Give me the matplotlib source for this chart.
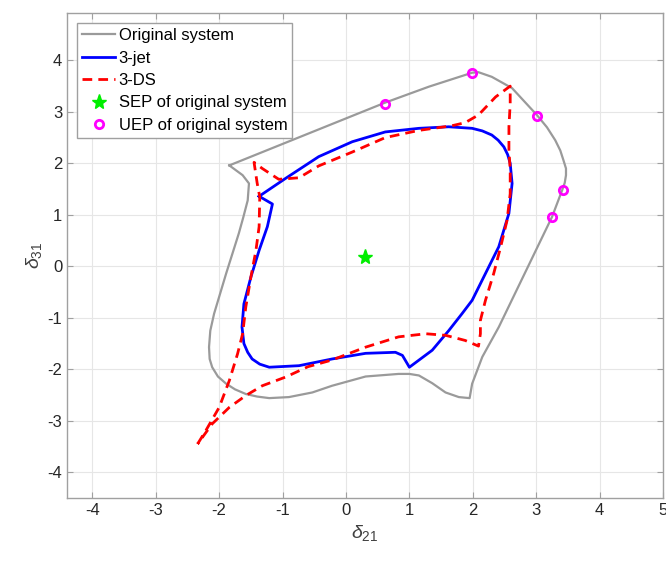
import numpy as np
import matplotlib
matplotlib.use("Agg")
import matplotlib.pyplot as plt

plt.rcParams['font.family'] = ['Liberation Sans', 'DejaVu Sans']
plt.rcParams['mathtext.fontset'] = 'custom'
plt.rcParams['mathtext.rm'] = 'Liberation Sans'
plt.rcParams['mathtext.it'] = 'Liberation Sans:italic'
plt.rcParams['axes.unicode_minus'] = False

# ---------------- data ----------------
# stability boundary of the original system
orig_x = [-1.84, 0.62, 1.31, 1.99, 2.09, 2.30, 2.62, 2.80, 3.01, 3.17, 3.30, 3.38, 3.43, 3.47,
          3.47, 3.45, 3.41, 3.25, 2.41, 2.15, 1.99, 1.95, 1.78, 1.57, 1.36, 1.15, 1.00, 0.83,
          0.31, -0.22, -0.53, -0.90, -1.21, -1.40, -1.58, -1.75, -1.89, -2.02, -2.11, -2.15,
          -2.16, -2.14, -2.08, -1.89, -1.69, -1.62, -1.55, -1.53, -1.63, -1.84]
orig_y = [1.96, 3.18, 3.49, 3.76, 3.77, 3.68, 3.46, 3.22, 2.94, 2.70, 2.45, 2.25, 2.06, 1.90,
          1.77, 1.62, 1.48, 0.96, -1.18, -1.76, -2.28, -2.56, -2.54, -2.45, -2.27, -2.12, -2.09, -2.09,
          -2.14, -2.32, -2.45, -2.54, -2.56, -2.53, -2.48, -2.39, -2.28, -2.14, -1.96, -1.80,
          -1.57, -1.25, -0.92, -0.14, 0.64, 0.95, 1.28, 1.61, 1.77, 1.96]

# 3-jet approximation
jet_x = [-1.37, -0.95, -0.43, 0.10, 0.62, 1.15, 1.62, 1.99, 2.15, 2.30, 2.40, 2.49, 2.55, 2.59,
         2.62, 2.57, 2.41, 2.20, 1.99, 1.83, 1.62, 1.36, 1.00, 0.89, 0.78, 0.31, -0.22, -0.74,
         -1.21, -1.36, -1.48, -1.55, -1.61, -1.64, -1.61, -1.50, -1.37, -1.24, -1.16, -1.37]
jet_y = [1.36, 1.71, 2.13, 2.42, 2.61, 2.68, 2.71, 2.68, 2.63, 2.55, 2.45, 2.32, 2.17, 2.00,
         1.61, 1.03, 0.38, -0.14, -0.66, -0.92, -1.25, -1.63, -1.96, -1.73, -1.67, -1.69, -1.80, -1.93,
         -1.96, -1.90, -1.80, -1.67, -1.50, -1.18, -0.73, -0.21, 0.31, 0.77, 1.21, 1.36]

# 3-DS approximation
ds_x = [-2.34, -2.21, -2.00, -1.84, -1.71, -1.63, -1.58, -1.50, -1.42, -1.37, -1.36, -1.40, -1.45,
        -1.32, -1.06, -0.74, -0.43, 0.10, 0.62, 1.15, 1.67, 1.88, 2.09, 2.36, 2.59,
        2.59, 2.57, 2.57, 2.59, 2.59, 2.54, 2.44, 2.33, 2.20, 2.12, 2.12, 2.09,
        1.88, 1.57, 1.26, 0.83, 0.31, -0.22, -0.60, -0.95, -1.32, -1.58, -1.84, -2.11, -2.34]
ds_y = [-3.45, -3.19, -2.74, -2.22, -1.70, -1.31, -0.79, -0.21, 0.31, 0.77, 1.35, 1.61, 2.02,
        1.90, 1.69, 1.72, 1.95, 2.22, 2.50, 2.64, 2.73, 2.79, 2.94, 3.29, 3.50,
        3.16, 2.71, 2.26, 1.87, 1.41, 0.89, 0.38, -0.14, -0.66, -1.05, -1.31, -1.55,
        -1.44, -1.34, -1.31, -1.37, -1.57, -1.82, -1.95, -2.15, -2.32, -2.51, -2.74, -3.06, -3.45]

sep_x, sep_y = [0.30], [0.18]
uep_x = [0.62, 1.99, 3.01, 3.42, 3.25]
uep_y = [3.16, 3.75, 2.92, 1.48, 0.96]

# ---------------- plot ----------------
fig = plt.figure(figsize=(6.66, 5.65), dpi=100)
ax = fig.add_axes([67 / 666, 67 / 565, 596 / 666, 485 / 565])

ax.plot(orig_x, orig_y, color='#9a9a9a', lw=1.6, label='Original system')
ax.plot(jet_x, jet_y, color='#0000ff', lw=2, label='3-jet')
ax.plot(ds_x, ds_y, color='#ff0000', lw=2, ls='--', dashes=(3.5, 2.2), label='3-DS')
ax.plot(sep_x, sep_y, ls='none', marker='*', ms=11, color='#00ee00', label='SEP of original system')
ax.plot(uep_x, uep_y, ls='none', marker='o', ms=6, mfc='none', mec='#ff00ff', mew=2,
        label='UEP of original system')

ax.set_xlim(-4.4, 5)
ax.set_ylim(-4.5, 4.92)
ax.set_xticks(np.arange(-4, 6, 1))
ax.set_yticks(np.arange(-4, 5, 1))
ax.grid(True, color='#e6e6e6', lw=0.8)
ax.set_axisbelow(True)
ax.tick_params(direction='in', top=True, right=True, labelsize=12, colors='#262626',
               length=4, width=0.8)
for s in ax.spines.values():
    s.set_color('#a0a0a0')
    s.set_linewidth(1)
ax.tick_params(color='#a0a0a0')

ax.set_xlabel(r'$\delta_{21}$', fontsize=14, color='#404040', labelpad=4)
ax.set_ylabel(r'$\delta_{31}$', fontsize=14, color='#404040', labelpad=2)

leg = ax.legend(loc='upper left', fontsize=12, fancybox=False, framealpha=1,
                edgecolor='#a0a0a0', borderaxespad=0.6, handlelength=2.0,
                handletextpad=0.2, labelspacing=0.45, borderpad=0.3)
leg.get_frame().set_linewidth(1)

fig.savefig('out.png', dpi=100)
